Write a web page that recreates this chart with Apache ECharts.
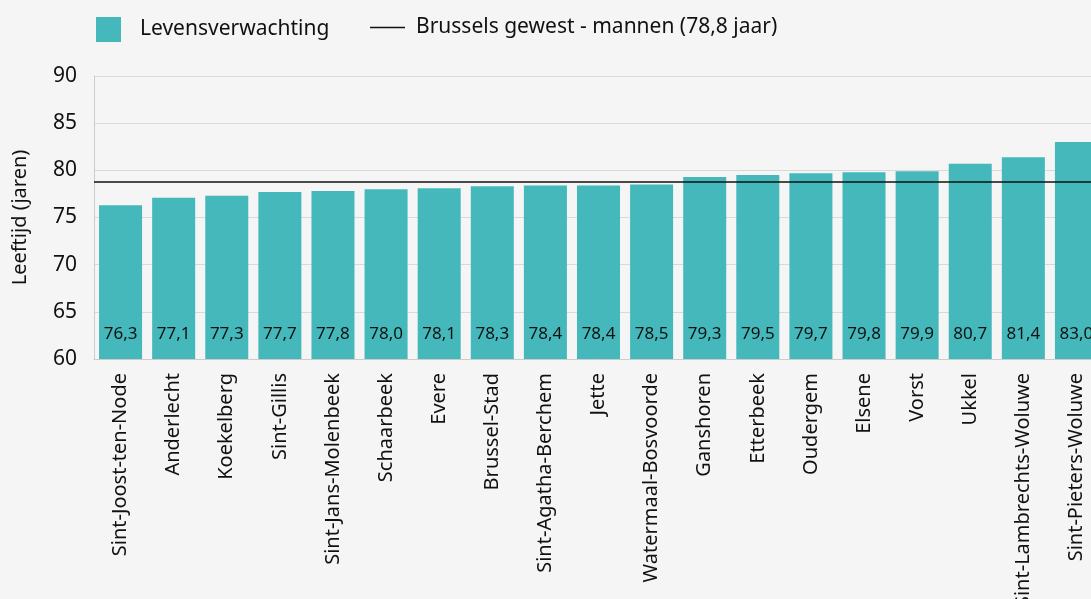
<!DOCTYPE html>
<html>
<head>
<meta charset="utf-8">
<script src="https://cdn.jsdelivr.net/npm/echarts@6/dist/echarts.min.js"></script>
<style>
html,body{margin:0;padding:0;background:#f5f5f5;}
#chart{width:1091px;height:599px;}
</style>
</head>
<body>
<div id="chart"></div>
<script>
const categories = ['Sint-Joost-ten-Node','Anderlecht','Koekelberg','Sint-Gillis','Sint-Jans-Molenbeek','Schaarbeek','Evere','Brussel-Stad','Sint-Agatha-Berchem','Jette','Watermaal-Bosvoorde','Ganshoren','Etterbeek','Oudergem','Elsene','Vorst','Ukkel','Sint-Lambrechts-Woluwe','Sint-Pieters-Woluwe'];
const lifeExpectancy = [76.3,77.1,77.3,77.7,77.8,78.0,78.1,78.3,78.4,78.4,78.5,79.3,79.5,79.7,79.8,79.9,80.7,81.4,83.0];
const regionAverage = 78.8;
const barName = 'Levensverwachting';
const lineName = 'Brussels gewest - mannen (78,8 jaar)';
const yAxisName = 'Leeftijd (jaren)';

const FONT = 'Noto Sans';
const TXT = '#111111';
const chart = echarts.init(document.getElementById('chart'));
chart.setOption({
  backgroundColor: '#f5f5f5',
  animation: false,
  textStyle: {fontFamily: FONT, color: TXT},
  legend: [
    {left: 96, top: 17, padding: 0, itemWidth: 25, itemHeight: 25, icon: 'rect', data: [barName],
     textStyle: {fontFamily: FONT, fontSize: 21, color: TXT, padding: [0,0,0,14]}},
    {left: 370, top: 17, padding: 0, itemWidth: 35, itemHeight: 1.5, icon: 'rect', data: [lineName],
     itemStyle: {color: '#111111'},
     textStyle: {fontFamily: FONT, fontSize: 21, color: TXT, padding: [0,0,0,6]}}
  ],
  grid: {left: 94, top: 76, bottom: 240, width: 1009, containLabel: false, outerBoundsMode: 'none'},
  xAxis: {
    type: 'category', data: categories,
    axisLine: {lineStyle: {color: '#cccccc', width: 1}},
    axisTick: {show: false},
    axisLabel: {rotate: 90, interval: 0, margin: 14, fontSize: 20, color: TXT, fontFamily: FONT}
  },
  yAxis: {
    type: 'value', min: 60, max: 90, interval: 5,
    name: yAxisName, nameLocation: 'middle', nameGap: 64,
    nameTextStyle: {fontSize: 20, color: TXT, fontFamily: FONT},
    axisLine: {show: true, lineStyle: {color: '#cccccc'}},
    axisTick: {show: false},
    axisLabel: {fontSize: 21, color: TXT, margin: 17, fontFamily: FONT},
    splitLine: {lineStyle: {color: '#d9d9d9', width: 1}}
  },
  series: [
    {
      name: barName, type: 'bar', data: lifeExpectancy,
      barCategoryGap: '19%',
      itemStyle: {color: '#45b8bb'},
      label: {show: true, position: 'insideBottom', distance: 16, fontSize: 17, color: TXT, fontFamily: FONT,
        formatter: p => p.value.toFixed(1).replace('.', ',')}
    },
    {
      name: lineName, type: 'line', data: [], symbol: 'none',
      itemStyle: {color: '#111111'}, lineStyle: {color: '#111111', width: 1.5},
      markLine: {symbol: 'none', silent: true, label: {show: false},
        lineStyle: {color: '#111111', width: 1.5, type: 'solid'},
        data: [{yAxis: regionAverage}]}
    }
  ]
});
</script>
</body>
</html>
